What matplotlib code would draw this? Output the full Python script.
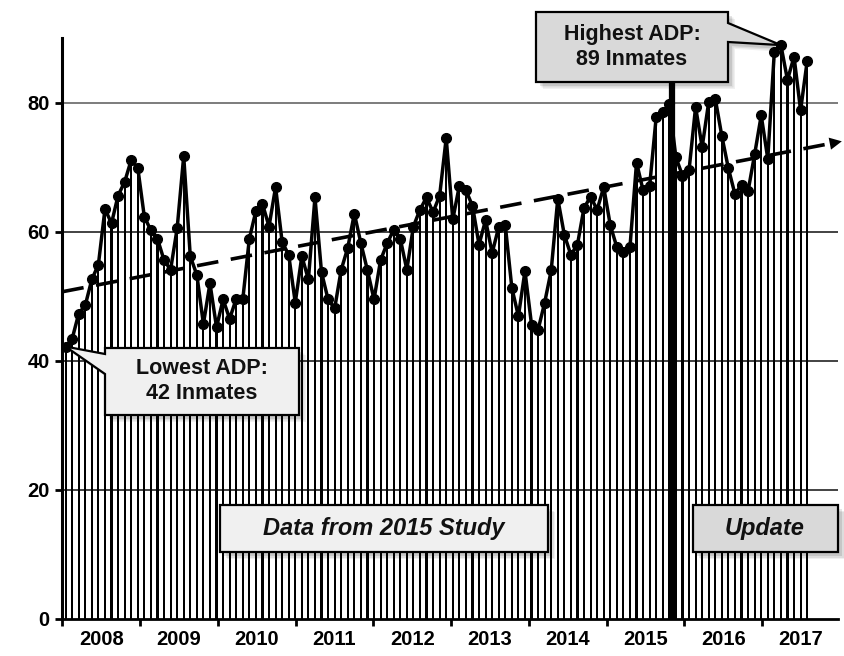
import numpy as np
import matplotlib.pyplot as plt
from matplotlib.patches import Polygon
from matplotlib.transforms import IdentityTransform

plt.rcParams['font.family'] = ['Liberation Sans', 'DejaVu Sans']

# monthly average daily population, Jan 2008 onward
adp = [42.2, 43.4, 47.3, 48.6, 52.6, 54.9, 63.5, 61.3, 65.6, 67.7, 71.1, 69.9,
       62.3, 60.2, 58.9, 55.6, 54.1, 60.5, 71.7, 56.2, 53.3, 45.7, 52.0, 45.2,
       49.5, 46.5, 49.6, 49.5, 58.9, 63.2, 64.3, 60.8, 66.9, 58.4, 56.4, 49.0,
       56.2, 52.6, 65.3, 53.7, 49.5, 48.1, 54.1, 57.5, 62.8, 58.2, 54.0, 49.5,
       55.6, 58.2, 60.3, 58.9, 54.1, 60.8, 63.4, 65.3, 63.0, 65.6, 74.5, 61.9,
       67.1, 66.4, 64.0, 58.0, 61.8, 56.7, 60.7, 61.0, 51.3, 46.9, 53.9, 45.6,
       44.8, 49.0, 54.0, 65.1, 59.5, 56.4, 58.0, 63.7, 65.4, 63.4, 66.9, 61.0,
       57.6, 56.9, 57.6, 70.7, 66.4, 67.1, 77.8, 78.6, 79.8, 71.5, 68.7, 69.5,
       79.3, 73.1, 80.1, 80.6, 74.8, 69.8, 65.8, 67.3, 66.3, 72.0, 78.0, 71.3,
       87.9, 88.9, 83.5, 87.1, 78.8, 86.4]
years = [2008, 2009, 2010, 2011, 2012, 2013, 2014, 2015, 2016, 2017]
yticks = [0, 20, 40, 60, 80]
study_end = 92.4   # split between 2015 study and update
year_w = 11.85     # width of one year label slot on the axis

W, H = 844, 656
fig = plt.figure(figsize=(W / 100, H / 100), dpi=100)
ax = fig.add_axes([62.3 / W, 37 / H, (838 - 62.3) / W, (619 - 38) / H])

x = np.arange(len(adp))
for v in yticks[1:]:
    ax.axhline(v, color='#222222' if v < 80 else '#666666', lw=1.2, zorder=1)
ax.bar(x, adp, width=0.32, color='black', zorder=2)
ax.plot(x, adp, color='black', lw=2.5, marker='o', ms=7, zorder=4)

ax.set_xlim(-0.5, 117.7)
ax.set_ylim(0, 90)

# trend line (least squares) with arrow head
coef = np.polyfit(x, adp, 1)
trend = np.poly1d(coef)
tx = np.array([-0.5, 117.0])
ax.plot(tx, trend(tx), color='black', lw=2.6, ls=(0, (6, 3.5)), zorder=5, clip_on=False)
ax.annotate('', xy=(118.7, trend(118.7)), xytext=(116.8, trend(116.8)),
            arrowprops=dict(arrowstyle='-|>', mutation_scale=22, color='black', lw=0),
            annotation_clip=False, zorder=5)

# thick split line
ax.plot([study_end, study_end], [0, 84], color='black', lw=4.5,
        solid_capstyle='butt', zorder=3, clip_on=False)

# axes styling
ax.spines['top'].set_visible(False)
ax.spines['right'].set_visible(False)
ax.spines['left'].set_linewidth(2.2)
ax.spines['bottom'].set_linewidth(2.0)
ax.set_yticks(yticks)
ax.set_yticklabels([str(t) for t in yticks], fontsize=14.5, fontweight='bold')
ax.tick_params(axis='y', length=5, width=2, pad=4)
ax.set_xticks([-0.5 + year_w * k for k in range(len(years))])
ax.set_xticklabels([])
ax.set_xticks([-0.5 + year_w * (k + 0.5) for k in range(len(years))], minor=True)
ax.set_xticklabels([str(y) for y in years], minor=True, fontsize=14.5, fontweight='bold')
ax.tick_params(axis='x', which='major', length=5, width=2)
ax.tick_params(axis='x', which='minor', length=0, pad=8)

fig.canvas.draw()


def px(pts):
    # top-down pixel coords -> display coords
    return [(a, H - b) for a, b in pts]


def tip(i):
    X, Y = ax.transData.transform((i, adp[i]))
    return (X, H - Y)


def callout(pts, fill):
    for d, a in [(7, 0.06), (5.5, 0.08), (4, 0.1)]:
        sh = [(a0 + d, b0 + d) for a0, b0 in pts]
        fig.add_artist(Polygon(px(sh), closed=True, facecolor='black', alpha=a,
                               edgecolor='none', transform=IdentityTransform(), zorder=6))
    fig.add_artist(Polygon(px(pts), closed=True, facecolor=fill, edgecolor='black',
                           lw=1.6, transform=IdentityTransform(), zorder=7))


i_min = int(np.argmin(adp))
i_max = int(np.argmax(adp))

callout([(105, 348), (299, 348), (299, 415), (105, 415), (105, 374), tip(i_min), (105, 354)],
        '#f0f0f0')
callout([(536, 12), (728, 12), (728, 23), tip(i_max), (728, 42), (728, 82), (536, 82)],
        '#d9d9d9')
callout([(220, 505), (548, 505), (548, 552), (220, 552)], '#f0f0f0')
callout([(693, 505), (838, 505), (838, 552), (693, 552)], '#d9d9d9')

tr = IdentityTransform()
fig.text(202, H - 381, f'Lowest ADP:\n{round(adp[i_min])} Inmates', transform=tr,
         ha='center', va='center', fontsize=15.5, fontweight='bold', color='#111111',
         linespacing=1.2, zorder=8)
fig.text(632, H - 47, f'Highest ADP:\n{round(adp[i_max])} Inmates', transform=tr,
         ha='center', va='center', fontsize=15.5, fontweight='bold', color='#111111',
         linespacing=1.2, zorder=8)
fig.text(384, H - 528, 'Data from 2015 Study', transform=tr, ha='center', va='center',
         fontsize=17, fontweight='bold', fontstyle='italic', color='#111111', zorder=8)
fig.text(765, H - 528, 'Update', transform=tr, ha='center', va='center',
         fontsize=17, fontweight='bold', fontstyle='italic', color='#111111', zorder=8)

fig.savefig('out.png', dpi=100)
